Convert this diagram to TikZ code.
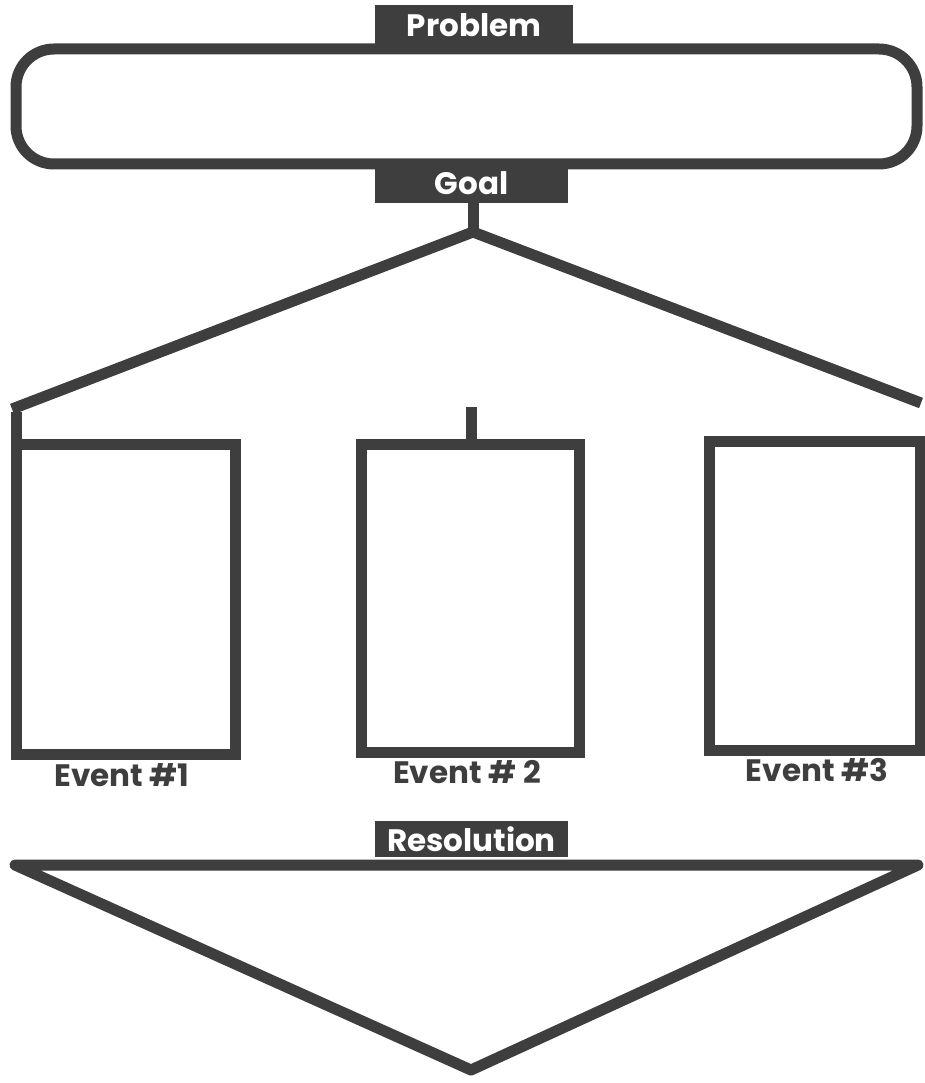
\documentclass[tikz,border=0pt]{standalone}
\usepackage{fontspec}
\setmainfont{Poppins}
\definecolor{ink}{HTML}{3E3E3E}
\begin{document}
\begin{tikzpicture}[x=1pt,y=-1pt,
  frame/.style={draw=ink,line width=11pt,line join=miter},
  lab/.style={fill=ink,text=white,inner sep=0pt,font=\fontsize{31}{33}\selectfont\bfseries},
  evlab/.style={text=ink,inner sep=0pt,font=\fontsize{31}{33}\selectfont\bfseries}]
\useasboundingbox (0,0) rectangle (924,1083);
% problem box
\draw[frame,rounded corners=38pt] (16,49) rectangle (917,164);
\node[lab,minimum width=198pt,minimum height=41pt] (problem) at (474,25.5) {Problem};
\node[lab,minimum width=193pt,minimum height=40pt] (goal) at (471.5,183) {Goal};
% tree
\coordinate (apex) at (473,232);
\coordinate (lend) at (12,409);
\coordinate (rend) at (921,403);
\draw[frame] (goal.south -| apex) -- (apex);
\draw[frame] (lend) -- (apex) -- (rend);
% event boxes
\draw[frame] (16,444) rectangle (235,754);
\draw[frame] (361,444) rectangle (579,752);
\draw[frame] (709,441) rectangle (920,750);
\coordinate (s1) at (16,412);
\coordinate (s1b) at (16,444);
\coordinate (s2) at (471,407);
\coordinate (s2b) at (471,444);
\draw[frame] (s1) -- (s1b);
\draw[frame] (s2) -- (s2b);
\node[evlab] (e1) at (122,775) {Event \#1};
\node[evlab] (e2) at (467,772) {Event \# 2};
\node[evlab] (e3) at (817,770) {Event \#3};
% resolution
\node[lab,minimum width=193pt,minimum height=36pt] (res) at (471.5,839) {Resolution};
\coordinate (tl) at (15,865);
\coordinate (tr) at (918,865);
\coordinate (tb) at (471,1070);
\draw[frame,line join=round] (tl) -- (tr) -- (tb) -- cycle;
\end{tikzpicture}
\end{document}
